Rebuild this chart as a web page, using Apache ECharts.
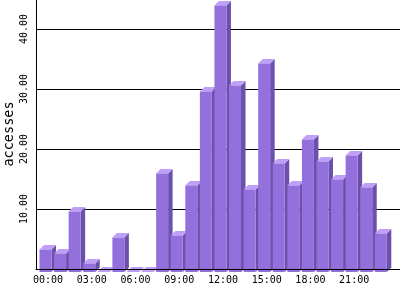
<!DOCTYPE html>
<html><head><meta charset="utf-8">
<script src="https://cdn.jsdelivr.net/npm/echarts@6/dist/echarts.min.js"></script>
<style>html,body{margin:0;padding:0;background:#fff}#c{width:400px;height:300px}</style>
</head><body><div id="c"></div>
<script>
const hours = ['00:00','01:00','02:00','03:00','04:00','05:00','06:00','07:00','08:00','09:00','10:00','11:00',
               '12:00','13:00','14:00','15:00','16:00','17:00','18:00','19:00','20:00','21:00','22:00','23:00'];
const accesses = [4.00, 3.33, 10.33, 1.67, 0.33, 6.00, 0.33, 0.33, 16.67, 6.33, 14.67, 30.33,
                  44.67, 31.33, 14.00, 35.00, 18.33, 14.67, 22.33, 18.67, 15.67, 19.67, 14.33, 6.67];
const yTickValues = [10, 20, 30, 40];
const axisTitle = 'accesses';

const FRONT = '#9470dc', TOP = '#c09ff8', SIDE = '#6b51ab';
const mono = 'DejaVu Sans Mono';

const chart = echarts.init(document.getElementById('c'), null, {renderer: 'canvas'});

function renderBar(params, api) {
  const i = api.value(0), v = api.value(1);
  const c = api.coord([i, v]);
  const c0 = api.coord([i, 0]);
  const d = 4.5, w = 12;
  const xL = c[0] - 8.5;
  const yt = c[1];
  const yb = c0[1] + 3;
  const frontTop = Math.min(yt + d, yb);
  return {
    type: 'group',
    children: [
      {type: 'polygon', shape: {points: [[xL + w, frontTop], [xL + w + d, yt], [xL + w + d, yb - d], [xL + w, yb]]},
       style: {fill: SIDE}},
      {type: 'polygon', shape: {points: [[xL, frontTop], [xL + w, frontTop], [xL + w + d, yt], [xL + d, yt]]},
       style: {fill: TOP}},
      {type: 'rect', shape: {x: xL, y: frontTop, width: w, height: Math.max(0, yb - frontTop)},
       style: {fill: FRONT}}
    ]
  };
}

chart.setOption({
  animation: false,
  backgroundColor: '#fff',
  grid: [
    {left: 36, right: 0, top: -1, bottom: 31, outerBoundsMode: 'none', containLabel: false},
    {left: 40.7, right: 9.4, top: -1, bottom: 31, outerBoundsMode: 'none', containLabel: false}
  ],
  xAxis: [
    {gridIndex: 0, type: 'value', min: 0, max: 1, z: 10,
     axisLine: {show: true, lineStyle: {color: '#000', width: 1}},
     axisTick: {show: false}, axisLabel: {show: false}, splitLine: {show: false}},
    {gridIndex: 1, type: 'category', data: hours,
     axisLine: {show: false}, axisTick: {show: false},
     axisLabel: {interval: 2, color: '#000', fontFamily: mono, fontSize: 10, margin: 6}}
  ],
  yAxis: [
    {gridIndex: 0, type: 'value', min: 0, max: 45, interval: 10,
     name: axisTitle, nameLocation: 'middle', nameGap: 20, nameRotate: 90, nameMoveOverlap: false,
     nameTextStyle: {color: '#000', fontFamily: mono, fontSize: 13.5},
     axisLine: {show: true, lineStyle: {color: '#000', width: 1}},
     axisTick: {show: false},
     axisLabel: {show: true, rotate: 90, margin: 7, color: '#000', fontFamily: mono, fontSize: 10,
       showMinLabel: false, showMaxLabel: false,
       formatter: function (val) { return yTickValues.indexOf(val) >= 0 ? val.toFixed(2) : ''; }},
     splitLine: {show: true, lineStyle: {color: '#000', width: 1}}},
    {gridIndex: 1, type: 'value', min: 0, max: 45, show: false, splitLine: {show: false}}
  ],
  series: [{
    type: 'custom', xAxisIndex: 1, yAxisIndex: 1,
    data: accesses.map((v, i) => [i, v]),
    renderItem: renderBar, clip: false
  }]
});
</script></body></html>
